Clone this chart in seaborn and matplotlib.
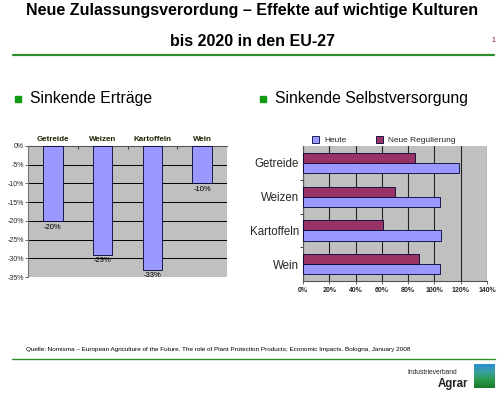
import matplotlib
matplotlib.use("Agg")
import matplotlib.pyplot as plt
import seaborn as sns
import pandas as pd
import numpy as np
from matplotlib.patches import Patch
from matplotlib.colors import LinearSegmentedColormap
from matplotlib.ticker import FixedLocator

# ---- data ----
crops = ["Getreide", "Weizen", "Kartoffeln", "Wein"]
yield_change = [-20, -29, -33, -10]
heute = [119, 104, 105, 104]
neue_regulierung = [85, 70, 61, 88]
left_yticks = [0, -5, -10, -15, -20, -25, -30, -35]
right_xticks = [0, 20, 40, 60, 80, 100, 120, 140]

sns.set_style("white")
plt.rcParams["font.family"] = ["Liberation Sans", "DejaVu Sans"]

W, H = 500, 393
fig = plt.figure(figsize=(W / 100, H / 100), dpi=100)
fig.patch.set_facecolor("white")

def fx(px):
    return px / W

def fy(py):
    return 1 - py / H

GREEN = "#2f8f2f"
GRAY = "#c0c0c0"

# ---- header ----
fig.text(fx(252), fy(11), "Neue Zulassungsverordung – Effekte auf wichtige Kulturen",
         ha="center", va="center", fontsize=11.5, fontweight="bold", color="black")
fig.text(fx(253), fy(41), "bis 2020 in den EU-27",
         ha="center", va="center", fontsize=11.5, fontweight="bold", color="black")
fig.text(fx(493), fy(41), "1", ha="center", va="center", fontsize=5, color="#800040")
fig.add_artist(plt.Line2D([fx(13), fx(494)], [fy(55), fy(55)], color=GREEN, lw=1.6))

# bullets
for bx, txt in [(15, "Sinkende Erträge"), (260, "Sinkende Selbstversorgung")]:
    fig.patches.append(plt.Rectangle((fx(bx), fy(102)), fx(5.5), 5.5 / H,
                                     transform=fig.transFigure, color="#129a12"))
    fig.text(fx(bx + 15), fy(99), txt, ha="left", va="center", fontsize=11.3, color="black")

# ---- left chart ----
axL = fig.add_axes([fx(28), fy(277), fx(227 - 28), (277 - 146) / H])
dfL = pd.DataFrame({"crop": crops, "val": yield_change})
sns.barplot(data=dfL, x="crop", y="val", ax=axL, color="#9999ff",
            edgecolor="#000033", linewidth=0.6, width=0.39, saturation=1, zorder=3)
axL.set_facecolor(GRAY)
axL.set_ylim(-35, 0)
axL.set_yticks(left_yticks)
axL.set_yticklabels([f"{v}%" for v in left_yticks], fontsize=5)
axL.yaxis.grid(True, color="black", lw=0.7, zorder=0)
axL.set_axisbelow(True)
axL.xaxis.tick_top()
axL.xaxis.set_minor_locator(FixedLocator([0.5, 1.5, 2.5]))
axL.tick_params(axis="x", which="minor", top=True, length=2, width=0.6, direction="in")
axL.set_xlabel("")
axL.set_ylabel("")
axL.tick_params(axis="x", which="major", labelsize=5.8, length=0, pad=2)
axL.tick_params(axis="y", length=2, pad=1, left=True, width=0.5)
for lab in axL.get_xticklabels():
    lab.set_fontweight("bold")
    lab.set_color("#222200")
axL.spines["top"].set_color("#555555")
axL.spines["top"].set_linewidth(0.8)
axL.spines["left"].set_color("#777777")
axL.spines["right"].set_visible(False)
axL.spines["bottom"].set_visible(False)
axL.bar_label(axL.containers[0], labels=[f"{v}%" for v in yield_change],
              padding=2, fontsize=5.5, color="black")

# ---- right chart ----
axR = fig.add_axes([fx(303), fy(281), fx(487 - 303), (281 - 146) / H])
dfR = pd.DataFrame({
    "crop": crops * 2,
    "val": heute + neue_regulierung,
    "serie": ["Heute"] * 4 + ["Neue Regulierung"] * 4,
})
sns.barplot(data=dfR, y="crop", x="val", hue="serie", ax=axR,
            hue_order=["Neue Regulierung", "Heute"],
            palette={"Heute": "#9999ff", "Neue Regulierung": "#993366"},
            edgecolor="#000033", linewidth=0.6, width=0.6, saturation=1, zorder=3)
axR.set_facecolor(GRAY)
axR.set_xlim(0, 140)
axR.set_xticks(right_xticks)
axR.set_xticklabels([f"{v}%" for v in right_xticks], fontsize=5, fontweight="bold")
axR.xaxis.grid(True, color="#222222", lw=0.8, zorder=0)
axR.set_axisbelow(True)
axR.set_xlabel("")
axR.set_ylabel("")
axR.yaxis.set_minor_locator(FixedLocator([0.5, 1.5, 2.5]))
axR.tick_params(axis="y", which="minor", left=True, length=2, width=0.6)
axR.tick_params(axis="y", which="major", labelsize=8.3, length=0, pad=3)
axR.tick_params(axis="x", length=2, pad=2, bottom=True, width=0.5)
for s in ["top", "right"]:
    axR.spines[s].set_visible(False)
axR.spines["left"].set_color("#555555")
axR.spines["bottom"].set_color("#555555")
leg = axR.get_legend()
if leg is not None:
    leg.remove()
handles = [Patch(facecolor="#9999ff", edgecolor="#000033", lw=0.6),
           Patch(facecolor="#993366", edgecolor="#000033", lw=0.6)]
axR.legend(handles, ["Heute", "Neue Regulierung"], ncol=2, frameon=False,
           fontsize=6, loc="lower center", bbox_to_anchor=(0.44, 0.99),
           handlelength=0.9, handleheight=0.9, columnspacing=3.5, handletextpad=0.6,
           borderaxespad=0)

# ---- footer ----
fig.text(fx(26), fy(350),
         "Quelle: Nomisma – European Agriculture of the Future. The role of Plant Protection Products; Economic Impacts. Bologna, January 2008",
         ha="left", va="center", fontsize=4.6, color="black")
fig.add_artist(plt.Line2D([fx(12), fx(495)], [fy(358.5), fy(358.5)], color=GREEN, lw=1.0))
fig.text(fx(457), fy(372), "Industrieverband", ha="right", va="center", fontsize=4.8, color="#222222")
fig.text(fx(468), fy(384), "Agrar", ha="right", va="center", fontsize=8.3, fontweight="bold", color="#222222")
# logo square
logo = fig.add_axes([fx(474), fy(388), fx(21), 24 / H])
grad = np.linspace(0, 1, 50).reshape(-1, 1)
cmap = LinearSegmentedColormap.from_list("lg", ["#1a7a2a", "#2a9a4a", "#3aa0a0", "#2a8fd0"])
logo.imshow(grad, aspect="auto", cmap=cmap, origin="lower")
logo.axis("off")

fig.savefig("out.png", dpi=100, facecolor="white")
